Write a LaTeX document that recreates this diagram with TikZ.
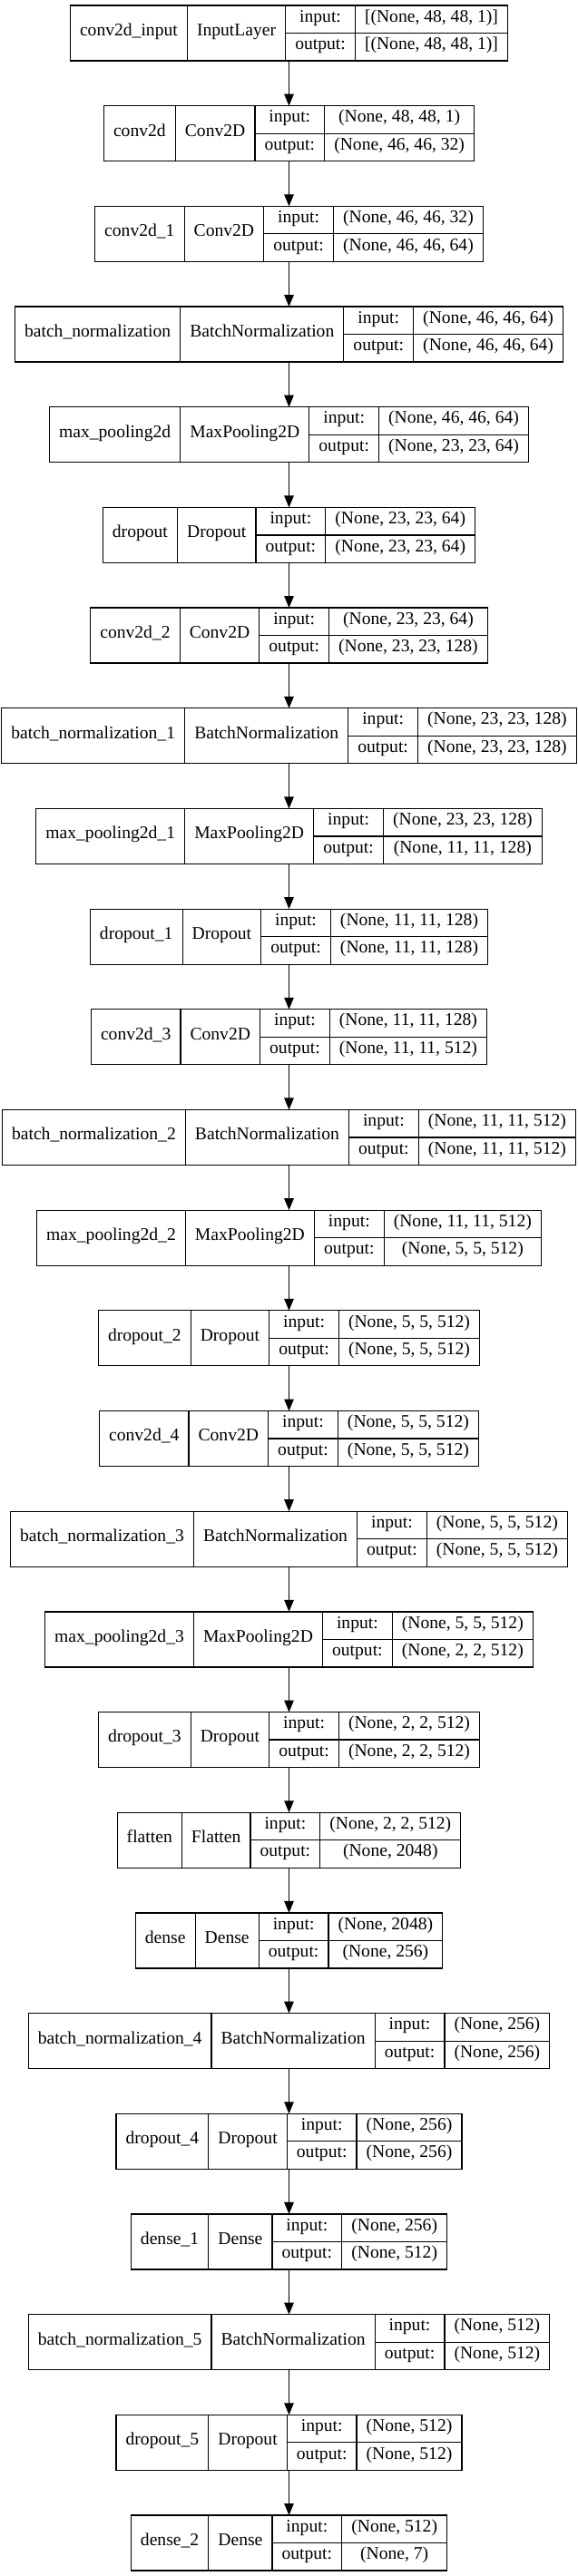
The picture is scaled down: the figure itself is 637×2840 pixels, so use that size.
\documentclass[tikz,border=0pt]{standalone}
\usepackage{fontspec}
\setmainfont{Liberation Serif}
\usetikzlibrary{arrows.meta}
\newlength\kwA \newlength\kwB \newlength\kwC \newlength\kwD \newlength\kwE
\newcommand\kfont{\fontsize{19.6pt}{22pt}\selectfont}
\def\kpad{10.6}
\tikzset{
  layerbox/.style={draw=black, line width=1.2pt, outer sep=0pt, inner sep=0pt, fill=white},
  cellline/.style={draw=black, line width=1.2pt},
  txt/.style={inner sep=0pt, outer sep=0pt, font=\kfont, text height=0.75em, text depth=0.17em, anchor=center},
  arr/.style={draw=black, line width=1.2pt, -{Triangle[length=13pt,width=10.5pt]}}
}
\newcommand\kerasMeasure[6]{%
  \settowidth\kwA{\kfont #3}%
  \settowidth\kwB{\kfont #4}%
  \settowidth\kwC{\kfont output:}%
  \settowidth\kwD{\kfont #5}%
  \settowidth\kwE{\kfont #6}%
  \ifdim\kwE>\kwD \kwD=\kwE\fi
  \expandafter\xdef\csname kmA#1\endcsname{\the\kwA}%
  \expandafter\xdef\csname kmB#1\endcsname{\the\kwB}%
  \expandafter\xdef\csname kmC#1\endcsname{\the\kwC}%
  \expandafter\xdef\csname kmD#1\endcsname{\the\kwD}%
}
\newcommand\kerasLayer[6]{%
  \edef\ktA{\csname kmA#1\endcsname}%
  \edef\ktB{\csname kmB#1\endcsname}%
  \edef\ktC{\csname kmC#1\endcsname}%
  \edef\ktD{\csname kmD#1\endcsname}%
  \pgfmathsetmacro\kcA{\ktA+2*\kpad}%
  \pgfmathsetmacro\kcB{\ktB+2*\kpad}%
  \pgfmathsetmacro\kcC{\ktC+2*\kpad}%
  \pgfmathsetmacro\kcD{\ktD+2*\kpad}%
  \pgfmathsetmacro\kW{\kcA+\kcB+\kcC+\kcD}%
  \pgfmathsetmacro\kyc{36.5+(#1-1)*110.68}%
  \pgfmathsetmacro\kxL{318.5-\kW/2}%
  \pgfmathsetmacro\kxa{\kxL+\kcA}%
  \pgfmathsetmacro\kxb{\kxa+\kcB}%
  \pgfmathsetmacro\kxc{\kxb+\kcC}%
  \pgfmathsetmacro\kxR{\kxL+\kW}%
  \node[layerbox, minimum width=\kW pt, minimum height=61pt] (#2) at (318.5,\kyc) {};
  \draw[cellline] (\kxa,\kyc-30.5) -- (\kxa,\kyc+30.5);
  \draw[cellline] (\kxb,\kyc-30.5) -- (\kxb,\kyc+30.5);
  \draw[cellline] (\kxc,\kyc-30.5) -- (\kxc,\kyc+30.5);
  \draw[cellline] (\kxb,\kyc) -- (\kxR,\kyc);
  \node[txt] (#2-name) at ({(\kxL+\kxa)/2},\kyc) {#3};
  \node[txt] (#2-class) at ({(\kxa+\kxb)/2},\kyc) {#4};
  \node[txt] (#2-inl) at ({(\kxb+\kxc)/2},\kyc-15.25) {input:};
  \node[txt] (#2-outl) at ({(\kxb+\kxc)/2},\kyc+15.25) {output:};
  \node[txt] (#2-in) at ({(\kxc+\kxR)/2},\kyc-15.25) {#5};
  \node[txt] (#2-out) at ({(\kxc+\kxR)/2},\kyc+15.25) {#6};
}
\newcommand\kerasData{%
\kerasEntry{1}{L1}{conv2d\_input}{InputLayer}{[(None, 48, 48, 1)]}{[(None, 48, 48, 1)]}%
\kerasEntry{2}{L2}{conv2d}{Conv2D}{(None, 48, 48, 1)}{(None, 46, 46, 32)}%
\kerasEntry{3}{L3}{conv2d\_1}{Conv2D}{(None, 46, 46, 32)}{(None, 46, 46, 64)}%
\kerasEntry{4}{L4}{batch\_normalization}{BatchNormalization}{(None, 46, 46, 64)}{(None, 46, 46, 64)}%
\kerasEntry{5}{L5}{max\_pooling2d}{MaxPooling2D}{(None, 46, 46, 64)}{(None, 23, 23, 64)}%
\kerasEntry{6}{L6}{dropout}{Dropout}{(None, 23, 23, 64)}{(None, 23, 23, 64)}%
\kerasEntry{7}{L7}{conv2d\_2}{Conv2D}{(None, 23, 23, 64)}{(None, 23, 23, 128)}%
\kerasEntry{8}{L8}{batch\_normalization\_1}{BatchNormalization}{(None, 23, 23, 128)}{(None, 23, 23, 128)}%
\kerasEntry{9}{L9}{max\_pooling2d\_1}{MaxPooling2D}{(None, 23, 23, 128)}{(None, 11, 11, 128)}%
\kerasEntry{10}{L10}{dropout\_1}{Dropout}{(None, 11, 11, 128)}{(None, 11, 11, 128)}%
\kerasEntry{11}{L11}{conv2d\_3}{Conv2D}{(None, 11, 11, 128)}{(None, 11, 11, 512)}%
\kerasEntry{12}{L12}{batch\_normalization\_2}{BatchNormalization}{(None, 11, 11, 512)}{(None, 11, 11, 512)}%
\kerasEntry{13}{L13}{max\_pooling2d\_2}{MaxPooling2D}{(None, 11, 11, 512)}{(None, 5, 5, 512)}%
\kerasEntry{14}{L14}{dropout\_2}{Dropout}{(None, 5, 5, 512)}{(None, 5, 5, 512)}%
\kerasEntry{15}{L15}{conv2d\_4}{Conv2D}{(None, 5, 5, 512)}{(None, 5, 5, 512)}%
\kerasEntry{16}{L16}{batch\_normalization\_3}{BatchNormalization}{(None, 5, 5, 512)}{(None, 5, 5, 512)}%
\kerasEntry{17}{L17}{max\_pooling2d\_3}{MaxPooling2D}{(None, 5, 5, 512)}{(None, 2, 2, 512)}%
\kerasEntry{18}{L18}{dropout\_3}{Dropout}{(None, 2, 2, 512)}{(None, 2, 2, 512)}%
\kerasEntry{19}{L19}{flatten}{Flatten}{(None, 2, 2, 512)}{(None, 2048)}%
\kerasEntry{20}{L20}{dense}{Dense}{(None, 2048)}{(None, 256)}%
\kerasEntry{21}{L21}{batch\_normalization\_4}{BatchNormalization}{(None, 256)}{(None, 256)}%
\kerasEntry{22}{L22}{dropout\_4}{Dropout}{(None, 256)}{(None, 256)}%
\kerasEntry{23}{L23}{dense\_1}{Dense}{(None, 256)}{(None, 512)}%
\kerasEntry{24}{L24}{batch\_normalization\_5}{BatchNormalization}{(None, 512)}{(None, 512)}%
\kerasEntry{25}{L25}{dropout\_5}{Dropout}{(None, 512)}{(None, 512)}%
\kerasEntry{26}{L26}{dense\_2}{Dense}{(None, 512)}{(None, 7)}%
}
\begin{document}
\let\kerasEntry\kerasMeasure
\kerasData
\begin{tikzpicture}[x=1pt, y={(0pt,-1pt)}]
\fill[white] (0,0) rectangle (637,2840);
\useasboundingbox (0,0) rectangle (637,2840);
\let\kerasEntry\kerasLayer
\kerasData
\foreach \i [evaluate=\i as \j using int(\i+1)] in {1,...,25} {
  \draw[arr] (L\i) -- (L\j);
}
\end{tikzpicture}
\end{document}
